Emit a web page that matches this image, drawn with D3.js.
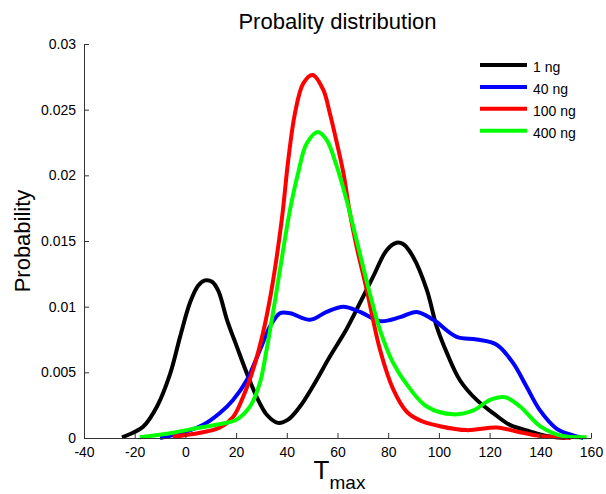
<!DOCTYPE html>
<html>
<head>
<meta charset="utf-8">
<script src="https://cdn.jsdelivr.net/npm/d3@7"></script>
<style>
  body { margin: 0; background: #fff; }
  text { font-family: "Liberation Sans", Arial, sans-serif; }
</style>
</head>
<body>
<div id="chart"></div>
<script>
// wymiary i marginesy
var width = 606
var height = 494
var margin = {top: 44, right: 15, bottom: 56, left: 84}

// dane (T_max, prawdopodobienstwo)
var seriesNames = ["1 ng", "40 ng", "100 ng", "400 ng"]
var seriesColors = ["#000000", "#0000ff", "#ff0000", "#00ff00"]

var x1ng = [-25, -20.7, -16.7, -11.2, -6, -2.1, 1.8, 5, 7.7, 10.5, 13, 16.4, 20.4, 24.3, 28.2, 32.2, 36.5, 40.5, 45.2, 50.5, 57, 63.6, 68.9, 74.1, 79.4, 83.3, 86, 89.8, 95.2, 99.1, 103.1, 108.3, 114.9, 121.4, 128, 135.9, 142.5, 150]
var y1ng = [0.00005, 0.0004, 0.00085, 0.0024, 0.0049, 0.0077, 0.0103, 0.0116, 0.0120, 0.0119, 0.0112, 0.0090, 0.0069, 0.0049, 0.0031, 0.00175, 0.00115, 0.0014, 0.0024, 0.0040, 0.0062, 0.0083, 0.0103, 0.0123, 0.0143, 0.01487, 0.01475, 0.0138, 0.0113, 0.0085, 0.0065, 0.0044, 0.0029, 0.0019, 0.0010, 0.0005, 0.00015, 0]

var x40ng = [-10, 0.5, 7, 13.6, 18.8, 24.2, 29.4, 33.4, 37.3, 41.3, 49.2, 55.7, 62.3, 68.9, 76.8, 84.7, 91.2, 97.8, 107, 114.9, 122.8, 129.3, 134.6, 139.9, 146.5, 152.9, 157]
var y40ng = [0, 0.0005, 0.0010, 0.0019, 0.0029, 0.0044, 0.0067, 0.0085, 0.0095, 0.0095, 0.0090, 0.0096, 0.0100, 0.0096, 0.0089, 0.0092, 0.0096, 0.0090, 0.0077, 0.0075, 0.0071, 0.0057, 0.0039, 0.0021, 0.0007, 0.0002, 0]

var x100ng = [-5, 5.8, 13.6, 18.8, 22.7, 26.7, 30.6, 34, 38, 40.6, 43.2, 46.5, 50.2, 54.4, 57, 59.7, 62.3, 64.9, 67.5, 71.5, 76.8, 82, 87.3, 93, 100.4, 111, 122.8, 130.7, 139.9, 152]
var y100ng = [0.0001, 0.0004, 0.0008, 0.0016, 0.0031, 0.0052, 0.0080, 0.0113, 0.0166, 0.0212, 0.0247, 0.0270, 0.02764, 0.0265, 0.0247, 0.0225, 0.0202, 0.0171, 0.0146, 0.0113, 0.0067, 0.0037, 0.0020, 0.0013, 0.0009, 0.0006, 0.0008, 0.0005, 0.00015, 0]

var x400ng = [-18, -4.9, 5.8, 14.8, 20.2, 25.5, 29.4, 32, 34.7, 37.3, 41.3, 44.5, 47.8, 52.2, 55.7, 59.7, 63.6, 67.6, 72.5, 76.8, 82, 88, 95.2, 105.7, 113.6, 120.2, 126.1, 132, 139.9, 147.8, 158.3]
var y400ng = [0.00005, 0.0004, 0.0008, 0.0011, 0.0014, 0.0024, 0.0042, 0.0067, 0.0097, 0.0128, 0.0174, 0.0202, 0.0224, 0.0233, 0.0227, 0.0207, 0.0181, 0.0150, 0.0112, 0.0082, 0.0057, 0.0039, 0.0024, 0.0018, 0.0021, 0.0029, 0.0031, 0.0024, 0.0009, 0.0002, 0.00005]

var seriesX = [x1ng, x40ng, x100ng, x400ng]
var seriesY = [y1ng, y40ng, y100ng, y400ng]

// etykiety osi
var xTicks = [-40, -20, 0, 20, 40, 60, 80, 100, 120, 140, 160]
var xTickLabels = ["-40", "-20", "0", "20", "40", "60", "80", "100", "120", "140", "160"]
var yTicks = [0, 0.005, 0.01, 0.015, 0.02, 0.025, 0.03]
var yTickLabels = ["0", "0.005", "0.01", "0.015", "0.02", "0.025", "0.03"]

var svg = d3.select("#chart")
  .append("svg")
    .attr("width", width)
    .attr("height", height)

var x = d3.scaleLinear().domain([-40, 160]).range([margin.left, width - margin.right])
var y = d3.scaleLinear().domain([0, 0.03]).range([height - margin.bottom, margin.top])

// krzywe
var line = d3.line()
  .x(function(d) { return x(d[0]) })
  .y(function(d) { return y(d[1]) })
  .curve(d3.curveCatmullRom.alpha(0.5))

seriesNames.forEach(function(name, i) {
  var pts = seriesX[i].map(function(v, j) { return [v, seriesY[i][j]] })
  svg.append("path")
    .datum(pts)
    .attr("fill", "none")
    .attr("stroke", seriesColors[i])
    .attr("stroke-width", 4)
    .attr("stroke-linejoin", "round")
    .attr("d", line)
})

// osie (tylko lewa i dolna, kreski do wewnatrz)
svg.append("g")
  .attr("transform", "translate(0," + (height - margin.bottom) + ")")
  .call(d3.axisBottom(x).tickValues(xTicks).tickSizeInner(-5).tickSizeOuter(0).tickPadding(9)
    .tickFormat(function(d, i) { return xTickLabels[i] }))
svg.append("g")
  .attr("transform", "translate(" + margin.left + ",0)")
  .call(d3.axisLeft(y).tickValues(yTicks).tickSizeInner(-5).tickSizeOuter(0).tickPadding(8)
    .tickFormat(function(d, i) { return yTickLabels[i] }))

svg.selectAll(".tick text").style("font-size", "14px").attr("fill", "#000")
svg.selectAll(".domain, .tick line").attr("stroke", "#333")

// tytul
svg.append("text")
  .attr("x", (margin.left + width - margin.right) / 2)
  .attr("y", 29)
  .attr("text-anchor", "middle")
  .style("font-size", "22px")
  .text("Probality distribution")

// etykieta osi Y
svg.append("text")
  .attr("transform", "translate(30," + ((margin.top + height - margin.bottom) / 2) + ") rotate(-90)")
  .attr("text-anchor", "middle")
  .style("font-size", "22px")
  .text("Probability")

// etykieta osi X: T z indeksem dolnym
var xl = svg.append("text")
  .attr("x", (margin.left + width - margin.right) / 2 + 2)
  .attr("y", 479)
  .attr("text-anchor", "middle")
  .style("font-size", "26px")
xl.append("tspan").text("T")
xl.append("tspan").attr("dy", 10).style("font-size", "19px").text("max")

// legenda
var legend = svg.selectAll(".legend")
  .data(seriesNames)
  .enter()
  .append("g")
  .attr("class", "legend")
  .attr("transform", function(d, i) { return "translate(480," + (65 + i * 21.9) + ")" })

legend.append("line")
  .attr("x1", 0).attr("x2", 47)
  .attr("stroke", function(d, i) { return seriesColors[i] })
  .attr("stroke-width", 4)

legend.append("text")
  .attr("x", 53)
  .attr("y", 7)
  .style("font-size", "14px")
  .text(function(d) { return d })
</script>
</body>
</html>
